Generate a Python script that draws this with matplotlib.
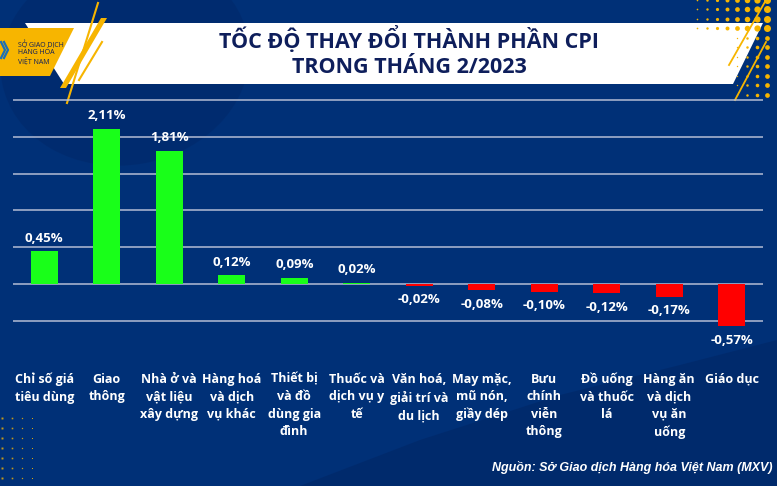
import numpy as np
import matplotlib
matplotlib.use("Agg")
import matplotlib.pyplot as plt
from matplotlib.patches import Polygon, Ellipse

# data
categories = [
    "Chỉ số giá\ntiêu dùng",
    "Giao\nthông",
    "Nhà ở và\nvật liệu\nxây dựng",
    "Hàng hoá\nvà dịch\nvụ khác",
    "Thiết bị\nvà đồ\ndùng gia\nđình",
    "Thuốc và\ndịch vụ y\ntế",
    "Văn hoá,\ngiải trí và\ndu lịch",
    "May mặc,\nmũ nón,\ngiầy dép",
    "Bưu\nchính\nviễn\nthông",
    "Đồ uống\nvà thuốc\nlá",
    "Hàng ăn\nvà dịch\nvụ ăn\nuống",
    "Giáo dục",
]
values = [0.45, 2.11, 1.81, 0.12, 0.09, 0.02, -0.02, -0.08, -0.10, -0.12, -0.17, -0.57]
value_labels = ["0,45%", "2,11%", "1,81%", "0,12%", "0,09%", "0,02%",
                "-0,02%", "-0,08%", "-0,10%", "-0,12%", "-0,17%", "-0,57%"]
title = "TỐC ĐỘ THAY ĐỔI THÀNH PHẦN CPI\nTRONG THÁNG 2/2023"
source = "Nguồn: Sở Giao dịch Hàng hóa Việt Nam (MXV)"

NAVY = "#003077"
DARK = "#00296a"
YELLOW = "#f7b500"
TITLE_C = "#0e1e5b"

plt.rcParams['font.family'] = ['Open Sans', 'DejaVu Sans']

W, H = 777, 486
fig = plt.figure(figsize=(W / 100, H / 100), dpi=100)
fig.patch.set_facecolor(NAVY)

# background decoration, pixel coords
bg = fig.add_axes([0, 0, 1, 1], zorder=0)
bg.set_xlim(0, W)
bg.set_ylim(H, 0)
bg.axis("off")
bg.add_patch(Ellipse((125, 60), 250, 210, angle=-10, color=DARK, alpha=0.6, lw=0))
bg.add_patch(Polygon([(300, 486), (420, 440), (560, 395), (680, 365), (777, 340), (777, 486)],
                     closed=True, color=DARK, alpha=0.8, lw=0))

# dots top right
for yy in np.arange(0, 30, 9.5):
    for j, xx in enumerate(range(697, 777, 10)):
        bg.plot(xx, yy, "o", ms=1.2 + 0.55 * j, color=YELLOW, mew=0)
for yy in np.arange(38, 100, 9.5):
    for j, xx in enumerate(range(737, 777, 10)):
        bg.plot(xx, yy, "o", ms=1.0 + 0.8 * j, color=YELLOW, mew=0)
# dots bottom left
for yy in range(418, 486, 10):
    for j, xx in enumerate(range(2, 42, 10)):
        bg.plot(xx, yy, "s", ms=1.4 - 0.25 * j, color=YELLOW, alpha=0.8, mew=0)

# white title banner
bg.add_patch(Polygon([(25, 23), (763, 23), (733, 84), (64, 84)], closed=True, color="white", lw=0))
# yellow stripes
bg.add_patch(Polygon([(101, 18), (107, 18), (66, 88), (60, 88)], closed=True, color=YELLOW, lw=0))
bg.plot([98, 67], [3, 103], color=YELLOW, lw=1.5)
bg.plot([102, 79], [42, 80], color=YELLOW, lw=1.5)
bg.plot([766, 729], [0, 65], color=YELLOW, lw=1.3)
bg.plot([766, 735], [42, 100], color=YELLOW, lw=1.3)
# logo block
bg.add_patch(Polygon([(0, 28), (74, 28), (50, 76), (0, 76)], closed=True, color=YELLOW, lw=0))
bg.plot([1, 5, 1], [42, 50, 58], color="#1b6fb5", lw=1.6)
bg.plot([4, 8, 4], [42, 50, 58], color="#1b6fb5", lw=1.6)
for k, line in enumerate(["SỞ GIAO DỊCH", "HÀNG HÓA", "VIỆT NAM"]):
    bg.text(18, 45 + k * 8, line, fontsize=5, color=TITLE_C, va="center", ha="left")

# title
bg.text(409, 52, title, fontsize=15.5, fontweight="bold", color=TITLE_C,
        ha="center", va="center", linespacing=1.25)

# chart axes: grid -0.5 at y=321px, 2.5 at y=100px
ymin, ymax = -0.75, 2.6
px_per_unit = (321 - 100) / 3.0
bottom_px = 321 + (-0.5 - ymin) * px_per_unit
top_px = 100 - (ymax - 2.5) * px_per_unit
ax = fig.add_axes([13 / W, 1 - bottom_px / H, 750 / W, (bottom_px - top_px) / H], zorder=2)
ax.set_facecolor("none")

x = np.arange(len(values))
colors = ["#19ff19" if v >= 0 else "#ff0000" for v in values]
ax.bar(x, values, width=0.43, color=colors, zorder=3)

ax.set_xlim(-0.5, len(values) - 0.5)
ax.set_ylim(ymin, ymax)
ax.set_yticks(np.arange(-0.5, 2.51, 0.5))
ax.yaxis.grid(True, color="#b7bfd6", lw=1.2, alpha=0.9, zorder=1)
ax.set_axisbelow(True)
ax.tick_params(axis="y", length=0, labelleft=False)
for s in ax.spines.values():
    s.set_visible(False)

ax.set_xticks(x)
ax.set_xticklabels(categories, fontsize=9, fontweight="bold", color="white", linespacing=1.45)
ax.tick_params(axis="x", length=0, pad=24)

for xi, v, lab in zip(x, values, value_labels):
    off = 13 if v >= 0 else -14
    ax.annotate(lab, (xi, v), xytext=(0, off * 0.72), textcoords="offset points",
                ha="center", va="center", fontsize=9.5, fontweight="bold", color="white", zorder=4)

fig.text(773 / W, 1 - 468 / H, source, fontsize=9, fontweight="bold", fontstyle="italic",
         color="white", ha="right", va="center", family=["Liberation Sans", "DejaVu Sans"])

fig.savefig("out.png", dpi=100, facecolor=fig.get_facecolor())
